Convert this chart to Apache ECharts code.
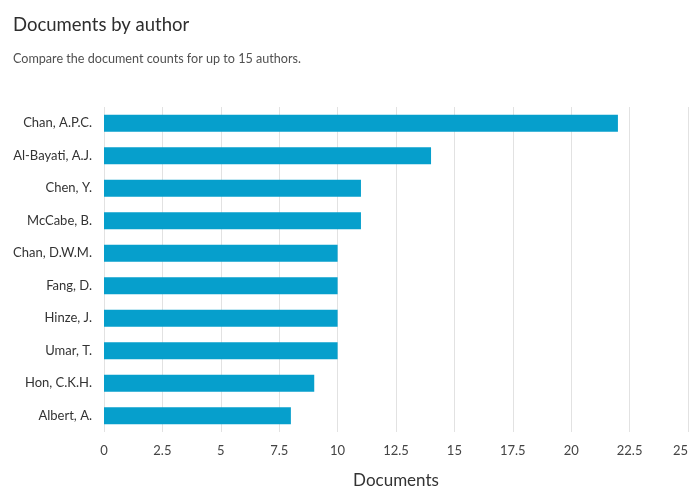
<!DOCTYPE html>
<html>
<head>
<meta charset="utf-8">
<script src="https://cdn.jsdelivr.net/npm/echarts@6/dist/echarts.min.js"></script>
<style>
html,body{margin:0;padding:0;background:#fff;}
#main{width:689px;height:488px;}
</style>
</head>
<body>
<div id="main"></div>
<script>
const authors = ["Chan, A.P.C.", "Al-Bayati, A.J.", "Chen, Y.", "McCabe, B.", "Chan, D.W.M.", "Fang, D.", "Hinze, J.", "Umar, T.", "Hon, C.K.H.", "Albert, A."];
const documents = [22, 14, 11, 11, 10, 10, 10, 10, 9, 8];
const titleText = "Documents by author";
const subtitleText = "Compare the document counts for up to 15 authors.";
const xAxisName = "Documents";

const chart = echarts.init(document.getElementById('main'), null, {renderer: 'canvas'});
chart.setOption({
  animation: false,
  backgroundColor: '#ffffff',
  textStyle: {fontFamily: 'Lato'},
  title: [{
    text: titleText,
    left: 8, top: 11,
    textStyle: {fontFamily: 'Lato', fontSize: 18.5, fontWeight: 'normal', color: '#2e2e2e'}
  }, {
    text: subtitleText,
    left: 8, top: 47,
    textStyle: {fontFamily: 'Lato', fontSize: 12.6, fontWeight: 'normal', color: '#505050'}
  }],
  grid: {left: 104, right: 1, top: 107, bottom: 56, containLabel: false, outerBoundsMode: 'none'},
  xAxis: {
    type: 'value', min: 0, max: 25, interval: 2.5,
    name: xAxisName, nameLocation: 'middle', nameGap: 40,
    nameTextStyle: {fontFamily: 'Lato', fontSize: 17, color: '#333'},
    axisLine: {show: false}, axisTick: {show: false},
    axisLabel: {margin: 12, fontSize: 13, color: '#444', fontFamily: 'Lato', alignMaxLabel: 'right'},
    splitLine: {show: true, lineStyle: {color: '#e2e2e2', width: 1}}
  },
  yAxis: {
    type: 'category', data: authors, inverse: true,
    axisLine: {show: false}, axisTick: {show: false},
    axisLabel: {margin: 12, fontSize: 13, color: '#333', fontFamily: 'Lato'},
    splitLine: {show: false}
  },
  series: [{
    type: 'bar', data: documents, barWidth: 17,
    itemStyle: {color: '#069fcc'}
  }]
});
</script>
</body>
</html>
